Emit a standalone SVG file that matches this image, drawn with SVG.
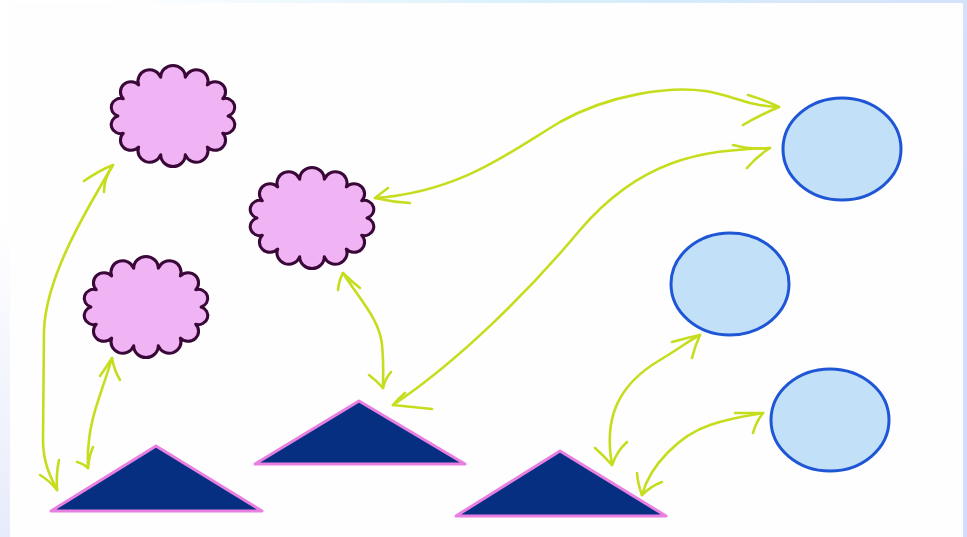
<svg xmlns="http://www.w3.org/2000/svg" width="967" height="537" viewBox="0 0 967 537">
<style>
.cloud{fill:#f0b4f4;stroke:#3a0838;stroke-width:2.9;stroke-linejoin:round;}
.tri{fill:#062f82;stroke:#e97fe0;stroke-width:3;stroke-linejoin:round;}
.ell{fill:#c2e1f8;stroke:#1f56d6;stroke-width:3;}
.con path{fill:none;stroke:#c6dd1e;stroke-width:2.6;stroke-linecap:round;stroke-linejoin:round;}
</style>
<defs>
<linearGradient id="bg" x1="0" y1="0" x2="1" y2="0.35">
<stop offset="0.1" stop-color="#ffffff"/>
<stop offset="0.5" stop-color="#d8f0fb"/>
<stop offset="1" stop-color="#d4defa"/>
</linearGradient>
<linearGradient id="lft" x1="0" y1="0" x2="0" y2="1">
<stop offset="0.4" stop-color="#ffffff"/>
<stop offset="1" stop-color="#e8ebfb"/>
</linearGradient>
<path id="cl" d="M52,0 A1,1 0 0 1 46.9,16.9 A1,1 0 0 1 32.4,30.5 A1,1 0 0 1 11.6,38 A1,1 0 0 1 -11.6,38 A1,1 0 0 1 -32.4,30.5 A1,1 0 0 1 -46.9,16.9 A1,1 0 0 1 -52,0 A1,1 0 0 1 -46.9,-16.9 A1,1 0 0 1 -32.4,-30.5 A1,1 0 0 1 -11.6,-38 A1,1 0 0 1 11.6,-38 A1,1 0 0 1 32.4,-30.5 A1,1 0 0 1 46.9,-16.9 A1,1 0 0 1 52,0 Z"/>
</defs>
<rect x="0" y="0" width="967" height="537" fill="url(#bg)"/>
<rect x="0" y="0" width="10" height="537" fill="url(#lft)"/>
<rect x="10" y="3" width="953" height="534" fill="#fefefe"/>

<g class="con">
<path d="M113,165 C 80,220 46,280 44,330 L 43,440 C 43,462 50,476 57,490"/>
<path d="M84,181 Q 100,170 113,165 Q 104,178 104,192"/>
<path d="M40,475 Q 50,481 57,490 Q 56,474 59,460"/>

<path d="M112,358 C 104,386 92,412 89,440 C 87,455 88,462 88,468"/>
<path d="M100,376 Q 107,366 112,358 Q 114,370 120,380"/>
<path d="M77,462 Q 84,464 88,468 Q 89,456 93,447"/>

<path d="M343,273 C 360,300 380,320 382,345 C 384,365 383,378 383,388"/>
<path d="M338,290 Q 339,280 343,273 Q 352,282 360,288"/>
<path d="M369,375 Q 377,381 383,388 Q 385,379 391,372"/>

<path d="M375,198 C 460,192 510,152 560,122 C 610,94 670,86 705,91 C 732,95 748,106 779,107"/>
<path d="M388,188 Q 380,194 375,198 Q 392,202 410,203"/>
<path d="M748,95 Q 765,100 779,107 Q 760,115 743,125"/>

<path d="M393,405 C 460,360 530,290 580,230 C 640,160 700,150 770,148"/>
<path d="M405,393 Q 398,399 393,405 Q 412,407 432,409"/>
<path d="M733,145 Q 752,150 770,148 Q 757,156 747,168"/>

<path d="M612,465 C 604,420 616,386 660,360 C 680,348 690,340 700,335"/>
<path d="M595,448 Q 603,455 612,465 Q 617,451 627,442"/>
<path d="M672,342 Q 686,338 700,335 Q 695,346 692,358"/>

<path d="M642,495 C 650,465 680,435 710,425 C 730,418 745,416 763,413"/>
<path d="M637,473 Q 638,485 642,495 Q 651,486 662,482"/>
<path d="M735,413 Q 749,413 763,413 Q 756,422 753,433"/>
</g>

<g id="cloud1"><use href="#cl" class="cloud" transform="translate(173,116) scale(1.06,1.02)"/></g>
<g id="cloud2"><use href="#cl" class="cloud" transform="translate(312,218) scale(1.06,1.02)"/></g>
<g id="cloud3"><use href="#cl" class="cloud" transform="translate(146,307) scale(1.06,1.02)"/></g>

<g id="ellipse1"><ellipse class="ell" cx="842" cy="149" rx="59" ry="51"/></g>
<g id="ellipse2"><ellipse class="ell" cx="730" cy="284" rx="59" ry="51"/></g>
<g id="ellipse3"><ellipse class="ell" cx="830" cy="420" rx="59" ry="51"/></g>

<g id="tri1"><polygon class="tri" points="156,446 262,511 51,511"/></g>
<g id="tri2"><polygon class="tri" points="359,401 465,464 255,464"/></g>
<g id="tri3"><polygon class="tri" points="560,451 666,516 456,516"/></g>
</svg>
